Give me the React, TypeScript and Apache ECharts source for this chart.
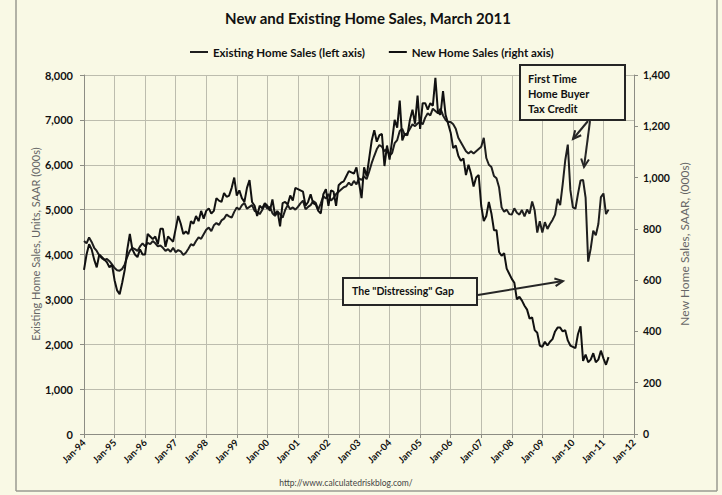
import { useEffect, useRef } from 'react';
import * as echarts from 'echarts';

const FONT = 'Lato, "Open Sans", "DejaVu Sans", sans-serif';

const monthNames = ['Jan', 'Feb', 'Mar', 'Apr', 'May', 'Jun', 'Jul', 'Aug', 'Sep', 'Oct', 'Nov', 'Dec'];
const firstYear = 1994;
const lastYear = 2011;
const axisEndLabel = 'Jan-12';

// Existing home sales, SAAR (000s), Jan-94 .. Mar-11 (left axis)
const existingSales = [
  4300, 4250, 4380, 4280, 4150, 4080, 3980, 3920, 3880, 3900, 3850, 3780,
  3700, 3650, 3640, 3680, 3780, 3950, 4080, 4150, 4120, 4080, 4180, 4250,
  4180, 4260, 4230, 4300, 4250, 4180, 4200, 4150, 4080, 4120, 4060, 4150,
  4050, 4100, 4070, 3990, 4040, 4130, 4230, 4200, 4300, 4380, 4350, 4450,
  4550, 4600, 4520, 4650, 4700, 4660, 4760, 4800, 4890, 4850, 4820, 4950,
  5050, 5000, 5100, 5150, 5020, 5060, 5100, 4970, 4950, 4900, 4990, 5100,
  5020, 5060, 4920, 4860, 4950, 4900, 4820, 4990, 5100, 5010, 5050, 5000,
  5060, 5140, 5200, 5010, 5060, 5100, 5190, 5150, 5000, 5140, 5300, 5250,
  5350, 5200, 5260, 5350, 5400, 5450, 5500, 5520, 5600, 5540, 5640, 5560,
  5700, 5660, 5740, 5680, 5850, 6040, 6200, 6350, 6440, 6400, 6300, 6360,
  6200, 6260, 6480, 6550, 6750, 6800, 6660, 6700, 6800, 6900, 6860, 6920,
  6950, 6900, 7050, 7150, 7100, 7250, 7200, 7150, 7250, 7100, 7000, 6950,
  6950, 6900, 6800, 6600, 6500, 6400, 6300, 6250, 6300, 6250, 6300, 6350,
  6400, 6600, 6150, 6000, 5950, 5750, 5700, 5500, 5050, 4950, 5000, 4900,
  4890, 5030, 4930, 4890, 4990, 4850, 5000, 4910, 5180, 4980, 4490, 4740,
  4490, 4720, 4570, 4680, 4770, 4890, 5240, 5100, 5570, 6100, 6450, 5440,
  5050, 5020, 5350, 5650, 5660, 5260, 3840, 4130, 4530, 4430, 4680, 5280,
  5360, 4900, 5000,
];

// New home sales, SAAR (000s), Jan-94 .. Mar-11 (right axis)
const newSales = [
  640, 700, 740, 720, 680, 650, 700, 690, 680, 670, 650, 660,
  600, 560, 545, 590, 640, 720, 780, 720, 700, 690, 720, 700,
  700, 780, 770, 760, 770, 740, 800, 800, 730, 770, 760, 750,
  800, 850, 820, 780, 790, 780, 830, 820, 850, 830, 870, 840,
  870, 880, 860, 870, 920, 910, 905, 940, 925, 930, 960, 1000,
  930, 950, 920, 905, 960, 990, 905, 890, 850, 890, 880, 900,
  890, 870, 915, 855, 870, 810, 900, 905, 895, 930, 910, 960,
  955, 950, 945, 890, 905, 935, 900, 895, 870, 860, 935, 955,
  890, 950, 945, 890, 970, 980, 985, 1005, 1025, 1020, 1015, 1040,
  980, 920, 1040, 1005, 1075, 1145, 1185, 1140, 1165, 1170, 1045, 1125,
  1070, 1145, 1225, 1195, 1300, 1145, 1170, 1165, 1225, 1265, 1210, 1320,
  1190, 1290, 1290, 1265, 1290, 1280, 1389, 1255, 1245, 1337, 1245, 1210,
  1175, 1115, 1125, 1085, 1065, 1075, 1010, 1050, 1015, 965, 1000, 1010,
  890, 830, 850, 905, 860, 795, 795, 710, 695, 705, 645, 625,
  605, 590, 525, 535, 520, 500, 485, 450, 455, 405, 395, 345,
  340, 360, 345, 360, 370, 400, 415, 415, 400, 405, 365, 345,
  340, 335, 390, 420, 285, 310, 280, 290, 315, 280, 290, 325,
  295, 270, 300,
];

const seriesNames = ['Existing Home Sales (left axis)', 'New Home Sales (right axis)'];
const leftAxisMax = 8000;
const leftAxisStep = 1000;
const rightAxisMax = 1400;
const rightAxisStep = 200;

const categories: string[] = [];
for (let y = firstYear; y <= lastYear; y++) {
  for (const m of monthNames) categories.push(`${m}-${String(y % 100).padStart(2, '0')}`);
}
categories.push(axisEndLabel);

const withCommas = (v: number) => String(v).replace(/\B(?=(\d{3})+(?!\d))/g, ',');
const isJan = (i: number) => i % 12 === 0;

const INK = '#262626';

function arrow(x1: number, y1: number, x2: number, y2: number) {
  const a = Math.atan2(y2 - y1, x2 - x1);
  const L = 9;
  const w = 0.45;
  const p1 = [x2 - L * Math.cos(a - w), y2 - L * Math.sin(a - w)];
  const p2 = [x2 - L * Math.cos(a + w), y2 - L * Math.sin(a + w)];
  return [
    { type: 'line', z: 100, shape: { x1, y1, x2, y2 }, style: { stroke: INK, lineWidth: 2 } },
    { type: 'polyline', z: 100, shape: { points: [p1, [x2, y2], p2] }, style: { stroke: INK, lineWidth: 2, fill: null } },
  ];
}

export default function App() {
  const ref = useRef<HTMLDivElement>(null);

  useEffect(() => {
    if (!ref.current) return;
    const chart = echarts.init(ref.current, undefined, { renderer: 'svg' });
    const bg = '#f9f9e5';
    const gridColor = '#bdbdae';
    const axisColor = '#8d8d84';

    const option = {
      animation: false,
      backgroundColor: bg,
      textStyle: { fontFamily: FONT },
      grid: { left: 84, right: 88, top: 75, bottom: 61, containLabel: false },
      legend: {
        top: 41,
        left: 185,
        icon: 'rect',
        itemWidth: 18,
        itemHeight: 2,
        itemGap: 24,
        textStyle: { fontSize: 11.5, fontWeight: 'bold', color: '#111', fontFamily: FONT },
        data: seriesNames,
      },
      xAxis: {
        type: 'category',
        data: categories,
        boundaryGap: false,
        axisLine: { show: true, lineStyle: { color: axisColor, width: 1 } },
        axisTick: { show: true, interval: isJan, length: 4, lineStyle: { color: axisColor } },
        axisLabel: {
          interval: isJan,
          rotate: 45,
          fontSize: 9.5,
          fontWeight: 'bold',
          color: '#111',
          margin: 7,
          fontFamily: FONT,
        },
        splitLine: { show: true, interval: isJan, lineStyle: { color: gridColor, width: 1 } },
      },
      yAxis: [
        {
          type: 'value',
          position: 'left',
          min: 0,
          max: leftAxisMax,
          interval: leftAxisStep,
          axisLine: { show: true, lineStyle: { color: axisColor } },
          axisTick: { show: true, length: 4, lineStyle: { color: axisColor } },
          axisLabel: { formatter: withCommas, fontSize: 11, fontWeight: 'bold', color: '#111', margin: 11, fontFamily: FONT },
          splitLine: { show: true, lineStyle: { color: gridColor, width: 1 } },
        },
        {
          type: 'value',
          position: 'right',
          min: 0,
          max: rightAxisMax,
          interval: rightAxisStep,
          axisLine: { show: true, lineStyle: { color: axisColor } },
          axisTick: { show: true, length: 4, lineStyle: { color: axisColor } },
          axisLabel: { formatter: withCommas, fontSize: 10.5, fontWeight: 'bold', color: '#111', margin: 9, fontFamily: FONT },
          splitLine: { show: false },
        },
      ],
      series: [
        {
          name: seriesNames[0],
          type: 'line',
          yAxisIndex: 0,
          data: existingSales,
          symbol: 'none',
          showSymbol: false,
          lineStyle: { color: '#1e1e1e', width: 2 },
          itemStyle: { color: '#1e1e1e' },
        },
        {
          name: seriesNames[1],
          type: 'line',
          yAxisIndex: 1,
          data: newSales,
          symbol: 'none',
          showSymbol: false,
          lineStyle: { color: '#111111', width: 2 },
          itemStyle: { color: '#111111' },
        },
      ],
      graphic: [
        // outer frame
        { type: 'line', shape: { x1: 16, y1: 0, x2: 16, y2: 491 }, style: { stroke: '#9a9a90', lineWidth: 1.5 } },
        { type: 'line', shape: { x1: 717, y1: 0, x2: 717, y2: 491 }, style: { stroke: '#9a9a90', lineWidth: 1.5 } },
        { type: 'line', shape: { x1: 16, y1: 491, x2: 717, y2: 491 }, style: { stroke: '#9a9a90', lineWidth: 1.5 } },
        {
          type: 'text', x: 368, y: 18,
          style: { text: 'New and Existing Home Sales, March 2011', align: 'center', verticalAlign: 'middle', font: `bold 15px ${FONT}`, fill: '#111' },
        },
        {
          type: 'text', x: 35, y: 244, rotation: Math.PI / 2,
          style: { text: 'Existing Home Sales, Units, SAAR (000s)', align: 'center', verticalAlign: 'middle', font: `11px ${FONT}`, fill: '#666' },
        },
        {
          type: 'text', x: 684, y: 244, rotation: Math.PI / 2,
          style: { text: 'New Home Sales, SAAR, (000s)', align: 'center', verticalAlign: 'middle', font: `12px ${FONT}`, fill: '#666' },
        },
        {
          type: 'text', x: 346, y: 483,
          style: { text: 'http://www.calculatedriskblog.com/', align: 'center', verticalAlign: 'middle', font: `8.5px ${FONT}`, fill: '#444' },
        },
        // Tax credit annotation
        { type: 'rect', z: 100, shape: { x: 520, y: 65, width: 105, height: 55 }, style: { fill: bg, stroke: INK, lineWidth: 2 } },
        { type: 'text', z: 101, x: 528, y: 78, style: { text: 'First Time', verticalAlign: 'middle', font: `bold 11px ${FONT}`, fill: '#111' } },
        { type: 'text', z: 101, x: 528, y: 93, style: { text: 'Home Buyer', verticalAlign: 'middle', font: `bold 11px ${FONT}`, fill: '#111' } },
        { type: 'text', z: 101, x: 528, y: 108, style: { text: 'Tax Credit', verticalAlign: 'middle', font: `bold 11px ${FONT}`, fill: '#111' } },
        ...arrow(588, 121, 573, 139),
        ...arrow(590, 121, 584, 167),
        // Distressing gap annotation
        { type: 'rect', z: 100, shape: { x: 343, y: 278, width: 134, height: 27 }, style: { fill: bg, stroke: INK, lineWidth: 2 } },
        { type: 'text', z: 101, x: 352, y: 291, style: { text: 'The "Distressing" Gap', verticalAlign: 'middle', font: `bold 10.5px ${FONT}`, fill: '#111' } },
        ...arrow(478, 295, 563, 281),
      ],
    };

    chart.setOption(option as any);
    return () => chart.dispose();
  }, []);

  return <div ref={ref} style={{ position: 'fixed', left: 0, top: 0, width: 722, height: 495 }} />;
}
